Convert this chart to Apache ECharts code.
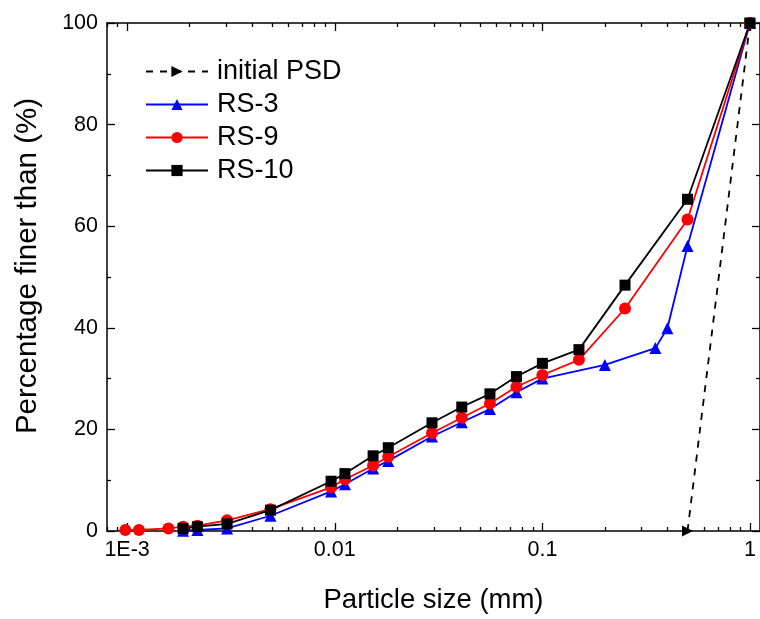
<!DOCTYPE html>
<html>
<head>
<meta charset="utf-8">
<script src="https://cdn.jsdelivr.net/npm/echarts@6/dist/echarts.min.js"></script>
<style>html,body{margin:0;padding:0;background:#fff}#c{width:760px;height:619px}</style>
</head>
<body>
<div id="c"></div>
<script>
// ---- data ----
const seriesNames = ['initial PSD', 'RS-3', 'RS-9', 'RS-10'];
const initX = [0.5, 1];
const initY = [0, 100];
const rs3X = [0.00186, 0.00218, 0.00303, 0.0049, 0.0096, 0.0112, 0.0153, 0.0181, 0.0294, 0.0409, 0.0559, 0.075, 0.1, 0.2, 0.35, 0.4, 0.5, 1];
const rs3Y = [0.05, 0.2, 0.5, 3.0, 7.8, 9.2, 12.3, 13.8, 18.6, 21.4, 24.0, 27.3, 30.0, 32.7, 36.0, 39.9, 56.1, 100];
const rs9X = [0.00098, 0.00114, 0.00158, 0.00186, 0.00218, 0.00303, 0.0049, 0.0096, 0.0112, 0.0153, 0.0181, 0.0294, 0.0409, 0.0559, 0.075, 0.1, 0.15, 0.25, 0.5, 1];
const rs9Y = [0.2, 0.2, 0.5, 0.85, 1.05, 2.1, 4.3, 8.6, 10.2, 12.9, 14.6, 19.3, 22.3, 25.1, 28.4, 30.7, 33.7, 43.8, 61.3, 100];
const rs10X = [0.00186, 0.00218, 0.00303, 0.0049, 0.0096, 0.0112, 0.0153, 0.0181, 0.0294, 0.0409, 0.0559, 0.075, 0.1, 0.15, 0.25, 0.5, 1];
const rs10Y = [0.5, 0.85, 1.4, 4.1, 9.8, 11.3, 14.8, 16.4, 21.3, 24.4, 27.0, 30.4, 33.0, 35.7, 48.4, 65.3, 100];
const xMajorTicks = [0.001, 0.01, 0.1, 1];
const xTickLabels = ['1E-3', '0.01', '0.1', '1'];
const yTicks = [0, 20, 40, 60, 80, 100];

// ---- build ----
const pairs = (xs, ys) => xs.map((x, i) => [x, ys[i]]);
const xMin = 0.0008, xMax = 1.117;
const xMinorTicks = [];
[0.0001, 0.001, 0.01, 0.1].forEach(d => { for (let m = 2; m <= 9; m++) { const v = +(m * d).toPrecision(3); if (v >= xMin && v <= xMax) xMinorTicks.push(v); } });
const font = 'Liberation Sans, Arial, sans-serif';
const fmtX = v => { const e = Math.round(Math.log10(v)); const i = xMajorTicks.findIndex(t => Math.abs(Math.log10(t) - e) < 1e-6); return i >= 0 ? xTickLabels[i] : ''; };

function xAx(pos, minor, showLabel) {
  return {
    type: 'log', logBase: 10, min: xMin, max: xMax, position: pos,
    gridIndex: 0,
    axisLine: { show: !minor, onZero: false, lineStyle: { color: '#000', width: 1.5 } },
    axisTick: { show: true, inside: true, length: minor ? 4 : 8, lineStyle: { color: '#000', width: 1.3 }, customValues: minor ? xMinorTicks : xMajorTicks },
    axisLabel: { show: showLabel, customValues: xMajorTicks, formatter: fmtX, color: '#000', fontSize: 21.5, fontFamily: font, margin: 8 },
    splitLine: { show: false },
    name: showLabel ? 'Particle size (mm)' : '', nameLocation: 'middle', nameGap: 55,
    nameTextStyle: { color: '#000', fontSize: 27.5, fontFamily: font }
  };
}
function yAx(pos, showLabel) {
  return {
    type: 'value', min: 0, max: 100, interval: 20, position: pos,
    axisLine: { show: true, onZero: false, lineStyle: { color: '#000', width: 1.5 } },
    axisTick: { show: true, inside: true, length: 8, lineStyle: { color: '#000', width: 1.3 } },
    minorTick: { show: true, splitNumber: 2, length: 4, lineStyle: { color: '#000', width: 1.3 } },
    axisLabel: { show: showLabel, color: '#000', fontSize: 21.5, fontFamily: font, margin: 9, formatter: v => yTicks.includes(v) ? String(v) : '' },
    splitLine: { show: false },
    name: showLabel ? 'Percentage finer than (%)' : '', nameLocation: 'middle', nameGap: 64, nameRotate: 90,
    nameTextStyle: { color: '#000', fontSize: 29.5, fontFamily: font, padding: [0, 0, 0, 22] }
  };
}

const chart = echarts.init(document.getElementById('c'), null, { renderer: 'canvas' });
chart.setOption({
  animation: false,
  backgroundColor: '#fff',
  grid: { left: 107, right: 0, top: 23, bottom: 88, containLabel: false },
  xAxis: [xAx('bottom', false, true), xAx('bottom', true, false), xAx('top', false, false), xAx('top', true, false)],
  yAxis: [yAx('left', true), yAx('right', false)],
  legend: {
    orient: 'vertical', left: 140, top: 53, itemWidth: 62, itemHeight: 14, itemGap: 6,
    textStyle: { color: '#000', fontSize: 27, fontFamily: font, padding: [0, 0, 0, 4] },
    data: seriesNames
  },
  series: [
    { name: seriesNames[0], type: 'line', data: pairs(initX, initY), symbol: 'triangle', symbolRotate: -90, symbolSize: 11,
      lineStyle: { color: '#000', width: 1.8, type: [7, 7] }, itemStyle: { color: '#000' } },
    { name: seriesNames[1], type: 'line', data: pairs(rs3X, rs3Y), symbol: 'triangle', symbolSize: 12,
      lineStyle: { color: '#0000FF', width: 1.8 }, itemStyle: { color: '#0000FF' } },
    { name: seriesNames[2], type: 'line', data: pairs(rs9X, rs9Y), symbol: 'circle', symbolSize: 12,
      lineStyle: { color: '#FF0000', width: 1.8 }, itemStyle: { color: '#FF0000' } },
    { name: seriesNames[3], type: 'line', data: pairs(rs10X, rs10Y), symbol: 'rect', symbolSize: 11,
      lineStyle: { color: '#000', width: 1.8 }, itemStyle: { color: '#000' } }
  ]
});
</script>
</body>
</html>
